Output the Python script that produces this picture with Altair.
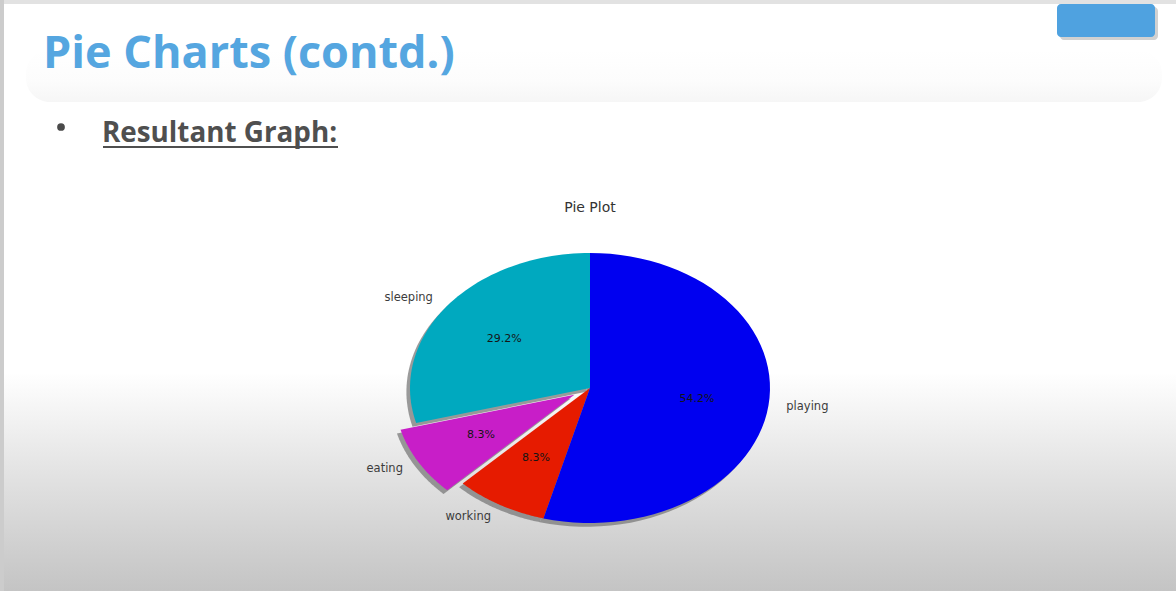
import altair as alt
import pandas as pd

# ---- data ----
labels = ["sleeping", "eating", "working", "playing"]
values = [7, 2, 2, 13]
explode = [0.0, 0.1, 0.0, 0.0]
colors = ["#00a9bf", "#c81ec8", "#e61b00", "#0000f0"]

slide_title = "Pie Charts (contd.)"
bullet_text = "Resultant Graph:"
plot_title = "Pie Plot"

# ---- layout ----
W, H = 1176, 591
CX, CY = 590, 388      # pie centre (px)
RX, RY = 180, 135      # pie radii (px) - the figure is stretched horizontally
N = 60                 # arc resolution

df = pd.DataFrame({"idx": list(range(len(labels))), "label": labels,
                   "value": values, "explode": explode})
dummy = pd.DataFrame({"d": [0]})

xs = alt.Scale(domain=[-CX / RX, (W - CX) / RX], zero=False, nice=False)
ys = alt.Scale(domain=[-(H - CY) / RY, CY / RY], zero=False, nice=False)

base = (
    alt.Chart(df)
    .transform_joinaggregate(total="sum(value)")
    .transform_window(cum="sum(value)", sort=[alt.SortField("idx")], frame=[None, 0])
    .transform_calculate(a0="PI/2 + 2*PI*(datum.cum - datum.value)/datum.total")
    .transform_calculate(a1="PI/2 + 2*PI*datum.cum/datum.total")
    .transform_calculate(mid="(datum.a0 + datum.a1)/2")
    .transform_calculate(ox="datum.explode*cos(datum.mid)")
    .transform_calculate(oy="datum.explode*sin(datum.mid)")
)

wedges = (
    base.transform_calculate(k=f"sequence(0, {N + 3})")
    .transform_flatten(["k"])
    .transform_calculate(ang=f"datum.a0 + (datum.a1 - datum.a0)*(datum.k - 1)/{N}")
    .transform_calculate(edge=f"(datum.k > 0 && datum.k < {N + 2}) ? 1 : 0")
    .transform_calculate(px="datum.ox + datum.edge*cos(datum.ang)")
    .transform_calculate(py="datum.oy + datum.edge*sin(datum.ang)")
)

shadow = (
    wedges.transform_calculate(sx="datum.px - 0.02", sy="datum.py - 0.028")
    .mark_line(filled=True, color="#7a7a7a", opacity=0.75)
    .encode(
        x=alt.X("sx:Q", scale=xs, axis=None),
        y=alt.Y("sy:Q", scale=ys, axis=None),
        detail="label:N",
        order=alt.Order("k:Q"),
    )
)

pie = wedges.mark_line(filled=True).encode(
    x=alt.X("px:Q", scale=xs, axis=None),
    y=alt.Y("py:Q", scale=ys, axis=None),
    color=alt.Color("label:N", scale=alt.Scale(domain=labels, range=colors), legend=None),
    detail="label:N",
    order=alt.Order("k:Q"),
)

lbl = (
    base.transform_calculate(lx="datum.ox + 1.1*cos(datum.mid)")
    .transform_calculate(ly="datum.oy + 1.1*sin(datum.mid)")
)
lbl_style = dict(baseline="middle", font="DejaVu Sans", fontSize=11.5, color="#3c3c3c")
labels_left = lbl.transform_filter("cos(datum.mid) < 0").mark_text(align="right", **lbl_style).encode(
    x=alt.X("lx:Q", scale=xs, axis=None), y=alt.Y("ly:Q", scale=ys, axis=None), text="label:N")
labels_right = lbl.transform_filter("cos(datum.mid) >= 0").mark_text(align="left", **lbl_style).encode(
    x=alt.X("lx:Q", scale=xs, axis=None), y=alt.Y("ly:Q", scale=ys, axis=None), text="label:N")

pct = (
    base.transform_calculate(tx="datum.ox + 0.6*cos(datum.mid)")
    .transform_calculate(ty="datum.oy + 0.6*sin(datum.mid)")
    .transform_calculate(ptxt="format(100*datum.value/datum.total, '.1f') + '%'")
    .mark_text(align="center", baseline="middle", font="DejaVu Sans", fontSize=11, color="#151515")
    .encode(x=alt.X("tx:Q", scale=xs, axis=None), y=alt.Y("ty:Q", scale=ys, axis=None), text="ptxt:N")
)

# ---- slide decorations ----
bg = alt.Chart(dummy).mark_rect(
    color={"gradient": "linear", "x1": 0, "y1": 0, "x2": 0, "y2": 1,
           "stops": [{"offset": 0, "color": "#ffffff"},
                     {"offset": 0.63, "color": "#ffffff"},
                     {"offset": 0.8, "color": "#e3e3e3"},
                     {"offset": 1, "color": "#c4c4c4"}]}
).encode(x=alt.value(0), x2=alt.value(W), y=alt.value(0), y2=alt.value(H))

band = alt.Chart(dummy).mark_rect(
    cornerRadius=24,
    color={"gradient": "linear", "x1": 0, "y1": 0, "x2": 0, "y2": 1,
           "stops": [{"offset": 0, "color": "#ffffff"},
                     {"offset": 0.6, "color": "#fcfcfc"},
                     {"offset": 1, "color": "#f6f6f6"}]}
).encode(x=alt.value(26), x2=alt.value(1162), y=alt.value(50), y2=alt.value(102))

top_border = alt.Chart(dummy).mark_rect(color="#e2e2e2").encode(
    x=alt.value(0), x2=alt.value(W), y=alt.value(0), y2=alt.value(4))
left_border = alt.Chart(dummy).mark_rect(color="#cccccc").encode(
    x=alt.value(0), x2=alt.value(4), y=alt.value(0), y2=alt.value(H))

blue_shadow = alt.Chart(dummy).mark_rect(color="#bdbdbd", cornerRadius=4, opacity=0.7).encode(
    x=alt.value(1060), x2=alt.value(1158), y=alt.value(7), y2=alt.value(40))
blue_box = alt.Chart(dummy).mark_rect(color="#4fa2e0", cornerRadius=4).encode(
    x=alt.value(1057), x2=alt.value(1155), y=alt.value(4), y2=alt.value(37))

title_txt = alt.Chart(dummy).mark_text(
    text=slide_title, align="left", baseline="alphabetic", font="Open Sans",
    fontWeight="bold", fontSize=45, color="#55a6e0"
).encode(x=alt.value(43), y=alt.value(68))

bullet = alt.Chart(dummy).mark_point(filled=True, shape="circle", size=60, color="#4a4a4a", opacity=1).encode(
    x=alt.value(61), y=alt.value(127))

sub_txt = alt.Chart(dummy).mark_text(
    text=bullet_text, align="left", baseline="alphabetic", font="Open Sans",
    fontWeight="bold", fontSize=27.8, color="#4f4f4f"
).encode(x=alt.value(102), y=alt.value(142))

underline = alt.Chart(dummy).mark_rule(color="#4f4f4f", strokeWidth=2).encode(
    x=alt.value(103), x2=alt.value(338), y=alt.value(147))

plot_title_txt = alt.Chart(dummy).mark_text(
    text=plot_title, align="center", baseline="middle", font="DejaVu Sans",
    fontSize=14, color="#333333"
).encode(x=alt.value(590), y=alt.value(208))

chart = alt.layer(
    bg, band, top_border, left_border, blue_shadow, blue_box,
    title_txt, bullet, sub_txt, underline, plot_title_txt,
    shadow, pie, labels_left, labels_right, pct,
).properties(
    width=W, height=H, padding=0, autosize=alt.AutoSizeParams(type="none"),
    background="#ffffff",
).configure_view(stroke=None)

chart.save("out.html", embed_options={"renderer": "svg", "actions": False})
